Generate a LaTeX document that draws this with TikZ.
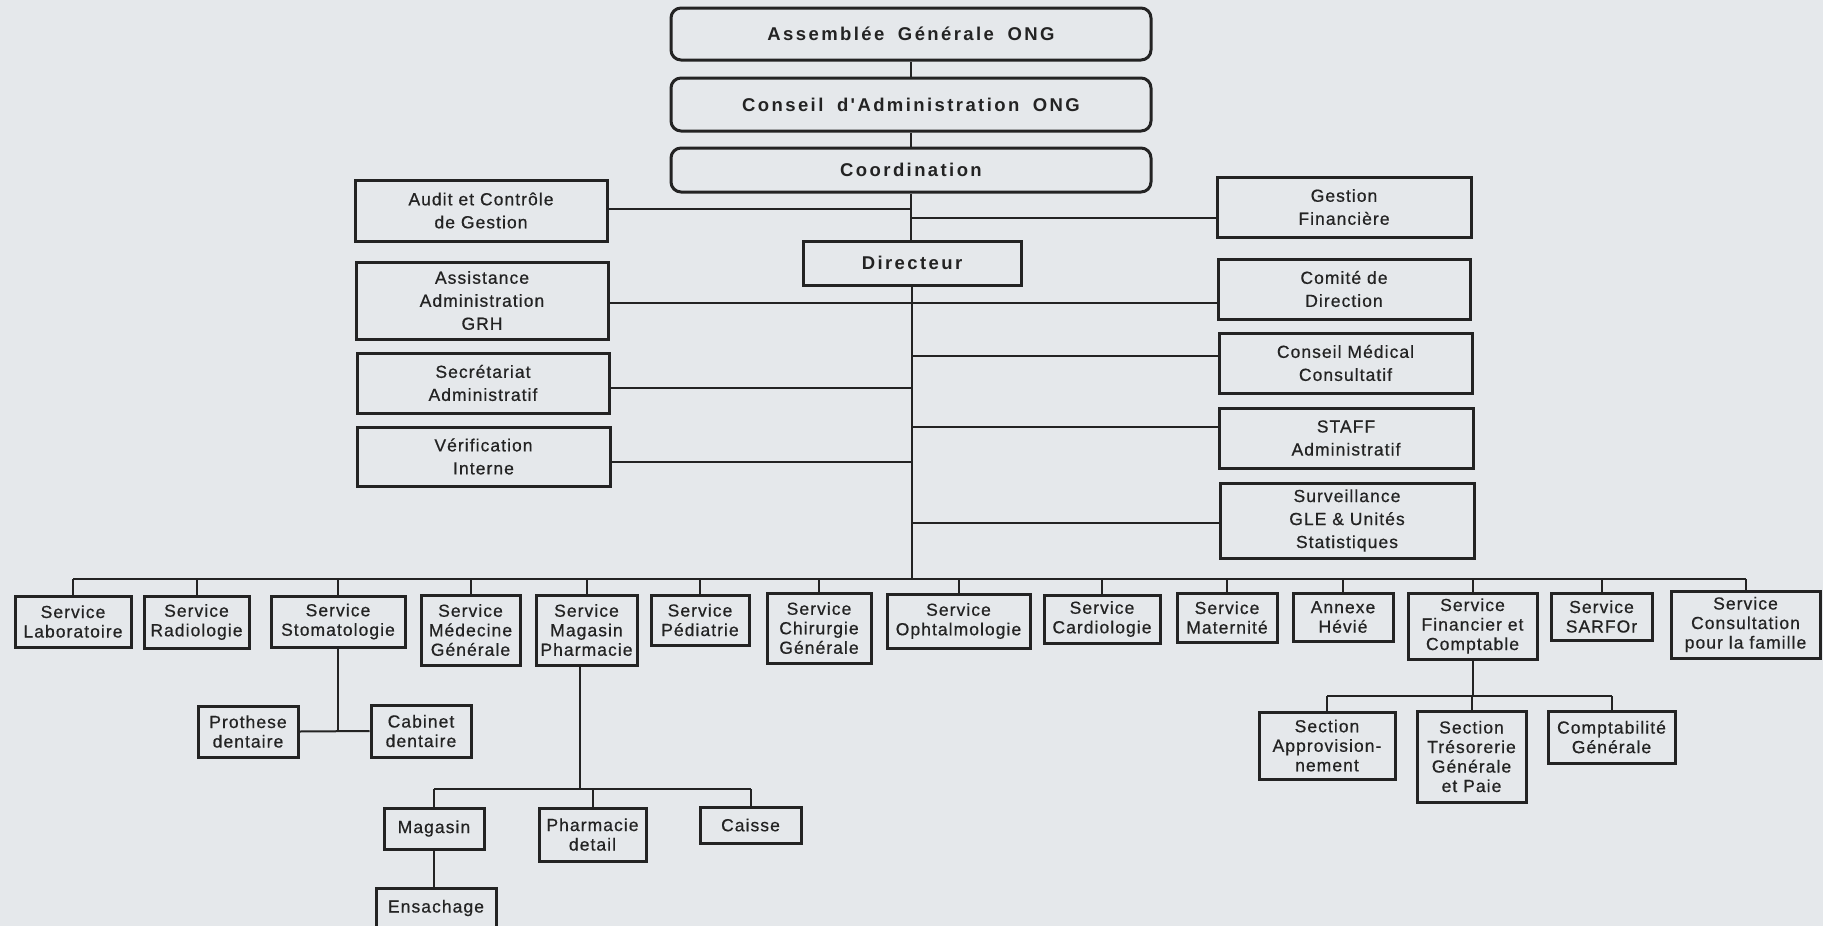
\documentclass[tikz,border=0pt]{standalone}
\usepackage{fontspec}
\setmainfont{Liberation Sans}
\newfontfamily\topfont[LetterSpace=13,WordSpace=1.8]{Liberation Sans}
\newfontfamily\boxfont[LetterSpace=6,FakeBold=0.6]{Liberation Sans}
\definecolor{bgc}{RGB}{229,232,235}
\definecolor{linec}{RGB}{35,35,35}
\definecolor{textc}{RGB}{35,35,35}
\tikzset{
  base/.style={draw=linec, line width=3pt, inner sep=1pt, align=center, text=textc},
  topbox/.style={base, rounded corners=10pt, font=\topfont\bfseries\fontsize{18.5}{21}\selectfont},
  dirbox/.style={base, font=\topfont\bfseries\fontsize{18.5}{21}\selectfont},
  midbox/.style={base, font=\boxfont\fontsize{17.5}{23}\selectfont},
  svcbox/.style={base, font=\boxfont\fontsize{17.5}{19.5}\selectfont},
  wire/.style={draw=linec, line width=2pt},
}
% #1 style, #2 name, #3 x1, #4 y1, #5 x2, #6 y2, #7 text
\newcommand\mybox[7]{\node[#1, minimum width=#5pt-#3pt, minimum height=#6pt-#4pt] (#2) at ({(#3+#5)/2},{(#4+#6)/2}) {#7};}
\begin{document}
\begin{tikzpicture}[x=1pt,y=-1pt]
\fill[bgc] (0,0) rectangle (1823,926);
\useasboundingbox (0,0) rectangle (1823,926);

% top
\mybox{topbox}{asm}{671}{8}{1151}{60}{Assemblée Générale ONG}
\mybox{topbox}{cda}{671}{78}{1151}{131}{Conseil d'Administration ONG}
\mybox{topbox}{coord}{671}{148}{1151}{192}{Coordination}
\mybox{dirbox}{dir}{803}{241}{1021}{285}{Directeur}

% left staff boxes
\mybox{midbox}{audit}{355}{180}{607}{241}{Audit et Contrôle\\de Gestion}
\mybox{midbox}{assist}{356}{262}{608}{339}{Assistance\\Administration\\GRH}
\mybox{midbox}{secr}{357}{353}{609}{413}{Secrétariat\\Administratif}
\mybox{midbox}{verif}{357}{427}{610}{486}{Vérification\\Interne}

% right staff boxes
\mybox{midbox}{gestfin}{1217}{177}{1471}{237}{Gestion\\Financière}
\mybox{midbox}{comite}{1218}{259}{1470}{319}{Comité de\\Direction}
\mybox{midbox}{cmc}{1219}{333}{1472}{393}{Conseil Médical\\Consultatif}
\mybox{midbox}{staff}{1219}{408}{1473}{468}{STAFF\\Administratif}
\mybox{midbox}{surv}{1220}{483}{1474}{558}{Surveillance\\GLE \& Unités\\Statistiques}

% services
\mybox{svcbox}{lab}{15}{596}{131}{647}{Service\\Laboratoire}
\mybox{svcbox}{radio}{144}{596}{249}{648}{Service\\Radiologie}
\mybox{svcbox}{stoma}{271}{596}{405}{647}{Service\\Stomatologie}
\mybox{svcbox}{medgen}{421}{595}{520}{665}{Service\\Médecine\\Générale}
\mybox{svcbox}{magpharm}{536}{595}{637}{665}{Service\\Magasin\\Pharmacie}
\mybox{svcbox}{pedia}{651}{595}{749}{645}{Service\\Pédiatrie}
\mybox{svcbox}{chir}{767}{593}{871}{663}{Service\\Chirurgie\\Générale}
\mybox{svcbox}{ophta}{887}{594}{1030}{648}{Service\\Ophtalmologie}
\mybox{svcbox}{cardio}{1044}{595}{1160}{643}{Service\\Cardiologie}
\mybox{svcbox}{mater}{1177}{593}{1277}{642}{Service\\Maternité}
\mybox{svcbox}{hevie}{1293}{593}{1393}{641}{Annexe\\Hévié}
\mybox{svcbox}{finance}{1408}{593}{1537}{659}{Service\\Financier et\\Comptable}
\mybox{svcbox}{sarfor}{1551}{593}{1652}{640}{Service\\SARFOr}
\mybox{svcbox}{consult}{1671}{591}{1820}{658}{Service\\Consultation\\pour la famille}

% stomatologie subtree
\mybox{svcbox}{prothese}{198}{706}{298}{757}{Prothese\\dentaire}
\mybox{svcbox}{cabinet}{371}{705}{471}{757}{Cabinet\\dentaire}

% pharmacie subtree
\mybox{svcbox}{magasin}{384}{808}{484}{849}{Magasin}
\mybox{svcbox}{pdetail}{539}{808}{646}{861}{Pharmacie\\detail}
\mybox{svcbox}{caisse}{700}{807}{801}{843}{Caisse}
\mybox{svcbox}{ensach}{376}{888}{496}{928}{Ensachage}

% finance subtree
\mybox{svcbox}{approv}{1259}{712}{1395}{779}{Section\\Approvision-\\nement}
\mybox{svcbox}{treso}{1417}{711}{1526}{802}{Section\\Trésorerie\\Générale\\et Paie}
\mybox{svcbox}{compta}{1548}{711}{1675}{763}{Comptabilité\\Générale}

% bus coordinates
\coordinate (bus) at (913,579);
\coordinate (pbus) at (580,789);
\coordinate (fbus) at (1472,696);

% spine
\draw[wire] (asm.south) -- (cda.north);
\draw[wire] (cda.south) -- (coord.north);
\draw[wire] (coord.south) -- (coord.south |- dir.north);
\draw[wire] (dir.south) -- (dir.south |- bus);

% staff connectors
\draw[wire] ([yshift=2pt]audit.east) -- ([yshift=2pt]audit.east -| dir.north);
\draw[wire] ([yshift=-11pt]gestfin.west) -- ([yshift=-11pt]gestfin.west -| dir.north);
\draw[wire] ([yshift=-2pt]assist.east) -- ([yshift=-2pt]assist.east -| comite.west);
\draw[wire] ([yshift=7pt]cmc.west) -- ([yshift=7pt]cmc.west -| dir.south);
\draw[wire] ([yshift=-5pt]secr.east) -- ([yshift=-5pt]secr.east -| dir.south);
\draw[wire] ([yshift=11pt]staff.west) -- ([yshift=11pt]staff.west -| dir.south);
\draw[wire] ([yshift=-5pt]verif.east) -- ([yshift=-5pt]verif.east -| dir.south);
\draw[wire] ([yshift=-2pt]surv.west) -- ([yshift=-2pt]surv.west -| dir.south);

% services bus
\draw[wire] (lab.north |- bus) -- (consult.north |- bus);
\foreach \n in {lab,radio,stoma,medgen,magpharm,pedia,chir,ophta,cardio,mater,hevie,finance,sarfor,consult}
  \draw[wire] (\n.north) -- (\n.north |- bus);

% stomatologie subtree
\draw[wire] (stoma.south) -- (stoma.south |- cabinet.west);
\draw[wire] (prothese.east) -- (cabinet.west);

% pharmacie subtree
\draw[wire] (magpharm.south -| pbus) -- (pbus);
\draw[wire] (magasin.north |- pbus) -- (caisse.north |- pbus);
\foreach \n in {magasin,pdetail,caisse}
  \draw[wire] (\n.north) -- (\n.north |- pbus);
\draw[wire] (magasin.south) -- (magasin.south |- ensach.north);

% finance subtree
\draw[wire] (finance.south) -- (finance.south |- fbus);
\draw[wire] (approv.north |- fbus) -- (compta.north |- fbus);
\foreach \n in {approv,treso,compta}
  \draw[wire] (\n.north) -- (\n.north |- fbus);
\end{tikzpicture}
\end{document}
